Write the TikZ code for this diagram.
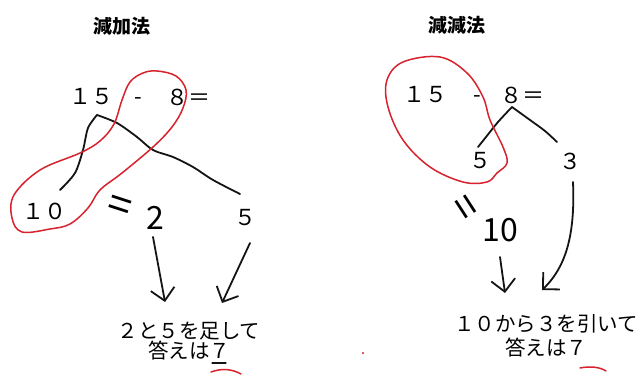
\documentclass[tikz,border=0pt]{standalone}
\usepackage{fontspec}
\setmainfont{Noto Sans CJK JP}
\usetikzlibrary{arrows.meta}
\definecolor{pen}{RGB}{20,20,20}
\definecolor{redpen}{RGB}{215,35,45}
\begin{document}
\begin{tikzpicture}[x=1pt,y=-1pt,
  title/.style={font=\bfseries\fontsize{19}{19}\selectfont, inner sep=0},
  num/.style={font=\fontsize{22}{22}\selectfont, inner sep=0},
  body/.style={font=\fontsize{20.5}{20}\selectfont, inner sep=0, align=center},
  hand/.style={font=\fontsize{32}{32}\selectfont, inner sep=0},
  handeq/.style={font=\fontsize{42}{42}\selectfont, inner sep=0},
  ink/.style={draw=pen, line width=1.8pt, line cap=round, line join=round},
  rink/.style={draw=redpen, line width=1.5pt, line cap=round, line join=round},
  arr/.style={ink, -{Straight Barb[length=12pt,width=24pt,line width=1.8pt]}}]
\useasboundingbox (0,0) rectangle (643,377);
\fill[white] (0,0) rectangle (643,377);

% ---------------- left panel ----------------
\node[title] (t1) at (122,26) {減加法};
\node[num] (l15) at (91,97) {１５};
\node[num] (lm) at (138,101) {-};
\node[num] (l8) at (188,97) {８＝};
\node[num] (l10) at (45,211) {１０};
\node[num] (l5) at (245,218) {５};

\coordinate (la) at (97,115);
\draw[ink] plot[smooth] coordinates {(la) (88,128) (83,150) (75,173) (60,190)};
\draw[ink] plot[smooth] coordinates {(la) (117,123) (137,137) (153,150) (173,157) (193,167) (213,180) (240,194)};

\draw[rink] plot[smooth cycle, tension=0.6] coordinates {(157,71) (176,76) (186,90) (183,108) (172,127) (153,147) (122,173) (100,190) (88,208) (70,224) (50,229) (22,232) (12,218) (14,195) (40,170) (80,153) (100,141) (114,124) (122,100) (130,82) (143,73)};

\node[handeq, rotate=-18] (leq) at (119,209) {=};
\node[hand] (l2) at (155,218) {2};

\coordinate (a1s) at (153,237);
\coordinate (a1e) at (165,302);
\coordinate (a2s) at (250,243);
\coordinate (a2e) at (222,303);
\draw[arr] (a1s) -- (a1e);
\draw[arr] (a2s) -- (a2e);

\node[body, font=\fontsize{20.5}{20}\selectfont] (lt) at (189,341) {２と５を足して\\答えは７};
\draw[ink, line width=1.3pt] (212,363) -- (226,363);
\draw[rink] (211,372) .. controls (222,368) and (232,369) .. (241,374);
\draw[rink] (211,377.5) -- (241,377.5);

% ---------------- right panel ----------------
\node[title] (t2) at (457,25) {減減法};
\node[num] (r15) at (425,95) {１５};
\node[num] (rm) at (477,99) {-};
\node[num] (r8) at (522,95) {８＝};
\node[num] (r5) at (480,161) {５};
\node[num] (r3) at (570,161) {３};

\coordinate (ra) at (512,107);
\draw[ink] plot[smooth] coordinates {(ra) (498,122) (486,137) (478,147)};
\draw[ink] plot[smooth] coordinates {(ra) (530,120) (545,131) (557,142)};

\draw[rink] plot[smooth cycle, tension=0.6] coordinates {(440,57) (467,73) (483,97) (490,120) (503,147) (507,163) (497,173) (487,182) (463,182) (430,167) (403,140) (388,107) (387,80) (403,62)};

\node[handeq, rotate=-57] (req) at (462,209) {=};
\node[hand] (r10) at (500,230) {10};

\coordinate (b1s) at (500,257);
\coordinate (b1e) at (505,293);
\coordinate (b2s) at (573,182);
\coordinate (b2e) at (542,290);
\draw[arr] (b1s) -- (b1e);
\draw[arr] (b2s) .. controls (575,230) and (568,265) .. (b2e);

\node[body, font=\fontsize{20.5}{24}\selectfont] (rt) at (546,336) {１０から３を引いて\\答えは７};
\draw[rink] (580,368) .. controls (590,366) and (600,367) .. (606,371);
\draw[rink] (580,377.5) -- (607,377.5);

\fill[redpen] (363,353) circle (1.2);
\end{tikzpicture}
\end{document}
